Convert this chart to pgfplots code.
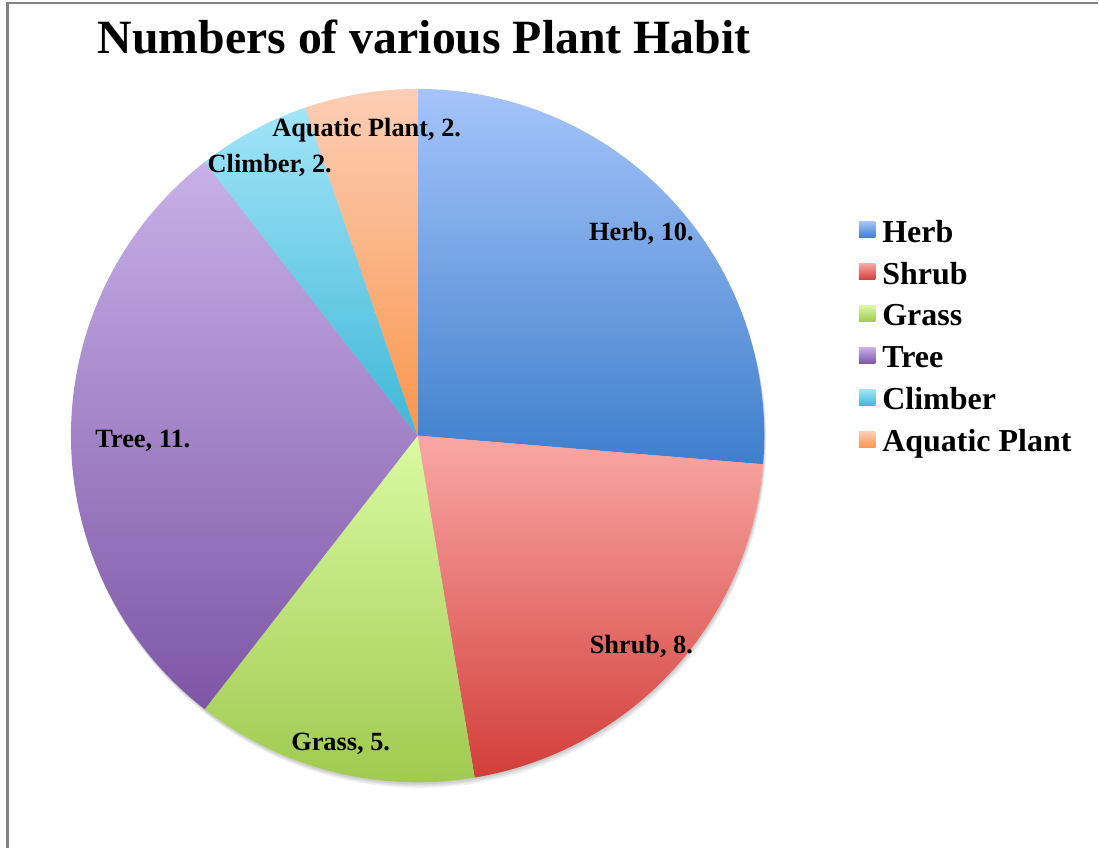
\documentclass[border=0pt]{standalone}
\usepackage{pgfplots}
\pgfplotsset{compat=1.18}
\usepackage{pgfplotstable}
\usepackage{fontspec}
\setmainfont{Liberation Serif}
\definecolor{herbT}{RGB}{165,196,250}
\definecolor{herbB}{RGB}{62,127,204}
\definecolor{shrubT}{RGB}{250,168,165}
\definecolor{shrubB}{RGB}{210,62,58}
\definecolor{grassT}{RGB}{218,250,162}
\definecolor{grassB}{RGB}{160,202,80}
\definecolor{treeT}{RGB}{200,176,232}
\definecolor{treeB}{RGB}{125,86,166}
\definecolor{climbT}{RGB}{162,228,248}
\definecolor{climbB}{RGB}{62,184,215}
\definecolor{aquaT}{RGB}{252,206,182}
\definecolor{aquaB}{RGB}{250,150,76}
\definecolor{framegray}{RGB}{130,130,130}
\begin{document}
\pgfplotstableread{
name value
Herb 10
Shrub 8
Grass 5
Tree 11
Climber 2
Aquatic 2
}\piedata
\begin{tikzpicture}
\pgfplotstablegetelem{0}{value}\of\piedata\edef\vA{\pgfplotsretval}
\pgfplotstablegetelem{1}{value}\of\piedata\edef\vB{\pgfplotsretval}
\pgfplotstablegetelem{2}{value}\of\piedata\edef\vC{\pgfplotsretval}
\pgfplotstablegetelem{3}{value}\of\piedata\edef\vD{\pgfplotsretval}
\pgfplotstablegetelem{4}{value}\of\piedata\edef\vE{\pgfplotsretval}
\pgfplotstablegetelem{5}{value}\of\piedata\edef\vF{\pgfplotsretval}
\pgfmathsetmacro\tot{\vA+\vB+\vC+\vD+\vE+\vF}
\pgfmathsetmacro\aA{90-360*\vA/\tot}
\pgfmathsetmacro\aB{\aA-360*\vB/\tot}
\pgfmathsetmacro\aC{\aB-360*\vC/\tot}
\pgfmathsetmacro\aD{\aC-360*\vD/\tot}
\pgfmathsetmacro\aE{\aD-360*\vE/\tot}
\pgfmathsetmacro\aF{\aE-360*\vF/\tot}
\begin{axis}[
  scale only axis, width=10.99cm, height=8.49cm,
  xmin=-1.2046, xmax=1.9625, ymin=-1.190, ymax=1.2565,
  hide axis, clip=false,
  legend cell align=left,
  legend image code/.code={\path[#1] (0cm,-0.045cm) rectangle (0.165cm,0.12cm); \path (0.235cm,0cm);},
  legend style={at={(0.7816,0.7444)}, anchor=north west, draw=none, fill=none,
    inner sep=0pt, row sep=2.95pt,
    font=\bfseries\fontsize{9.1}{11}\selectfont,
    nodes={inner sep=0pt, text height=7pt, text depth=2pt}},
]
% soft drop shadow of the pie
\addplot[forget plot, draw=none, fill=black, fill opacity=0.06, domain=0:360, samples=181] ({cos(x)+0.006},{sin(x)-0.016});
\addplot[forget plot, draw=none, fill=black, fill opacity=0.07, domain=0:360, samples=181] ({cos(x)+0.004},{sin(x)-0.011});
\addplot[forget plot, draw=none, fill=black, fill opacity=0.08, domain=0:360, samples=181] ({cos(x)+0.002},{sin(x)-0.006});

\addplot[draw=none, top color=herbT, bottom color=herbB, domain=\aA:90, samples=90] ({cos(x)},{sin(x)}) -- (axis cs:0,0) -- cycle;
\addlegendentry{Herb}
\addplot[draw=none, top color=shrubT, bottom color=shrubB, domain=\aB:\aA, samples=80] ({cos(x)},{sin(x)}) -- (axis cs:0,0) -- cycle;
\addlegendentry{Shrub}
\addplot[draw=none, top color=grassT, bottom color=grassB, domain=\aC:\aB, samples=60] ({cos(x)},{sin(x)}) -- (axis cs:0,0) -- cycle;
\addlegendentry{Grass}
\addplot[draw=none, top color=treeT, bottom color=treeB, domain=\aD:\aC, samples=100] ({cos(x)},{sin(x)}) -- (axis cs:0,0) -- cycle;
\addlegendentry{Tree}
\addplot[draw=none, top color=climbT, bottom color=climbB, domain=\aE:\aD, samples=30] ({cos(x)},{sin(x)}) -- (axis cs:0,0) -- cycle;
\addlegendentry{Climber}
\addplot[draw=none, top color=aquaT, bottom color=aquaB, domain=\aF:\aE, samples=30] ({cos(x)},{sin(x)}) -- (axis cs:0,0) -- cycle;
\addlegendentry{Aquatic Plant}

\path (rel axis cs:0,0) rectangle (rel axis cs:1,1);
\draw[framegray, line width=0.6pt] (rel axis cs:0.0068,0) -- (rel axis cs:0.0068,0.9965) -- (rel axis cs:1,0.9965);

\node[font=\bfseries\fontsize{13.6}{16}\selectfont, anchor=base] at (rel axis cs:0.3863,0.9364) {Numbers of various Plant Habit};

\begin{scope}[every node/.style={font=\bfseries\fontsize{7.5}{9}\selectfont}]
\node at (axis cs:0.6455,0.5838) {Herb, 10.};
\node at (axis cs:0.6455,-0.6093) {Shrub, 8.};
\node at (axis cs:-0.2219,-0.8888) {Grass, 5.};
\node at (axis cs:-0.7925,-0.0156) {Tree, 11.};
\node at (axis cs:-0.4265,0.7797) {Climber, 2.};
\node at (axis cs:-0.1470,0.8806) {Aquatic Plant, 2.};
\end{scope}
\end{axis}
\end{tikzpicture}
\end{document}
